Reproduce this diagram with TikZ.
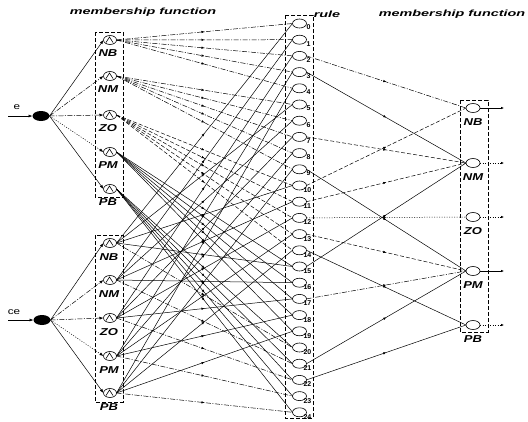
\documentclass[tikz,border=0pt]{standalone}
\usepackage{fontspec}
\setmainfont{Liberation Sans}
\newfontfamily\lblfont[FakeStretch=1.3]{Liberation Sans}
\newfontfamily\ttlfont[FakeStretch=1.6]{Liberation Sans}
\usetikzlibrary{shapes.geometric,arrows.meta,decorations.markings}
\begin{document}
\begin{tikzpicture}[x=1pt,y=-1pt,
  every node/.style={inner sep=0pt,outer sep=0pt},
  mf/.style={ellipse,draw,line width=0.6pt,minimum width=13pt,minimum height=9pt,
    path picture={\draw[line width=0.6pt] ([shift={(-4pt,-2.5pt)}]path picture bounding box.center) -- ++(3.5pt,5.5pt) -- ++(3.5pt,-5.5pt);}},
  rulenode/.style={ellipse,draw,line width=0.6pt,minimum width=14pt,minimum height=9pt},
  outnode/.style={ellipse,draw,line width=0.6pt,minimum width=14pt,minimum height=9pt},
  inode/.style={ellipse,fill=black,minimum width=17pt,minimum height=10pt},
  lbl/.style={font=\lblfont\bfseries\itshape\fontsize{10}{10}\selectfont},
  inlbl/.style={font=\lblfont\fontsize{9}{9}\selectfont},
  ttl/.style={font=\ttlfont\bfseries\itshape\fontsize{9}{9}\selectfont},
  num/.style={font=\bfseries\fontsize{7}{7}\selectfont,anchor=west},
  grpbox/.style={draw,line width=0.6pt,dash pattern=on 4pt off 2pt},
  mid/.style={postaction={decorate},decoration={markings,mark=at position 0.5 with {\arrow{Latex[length=3pt,width=2.5pt]}}}},
  conn/.style={line width=0.5pt},
  dd/.style={dash pattern=on 5pt off 1.5pt on 1pt off 1.5pt},
  ds/.style={dash pattern=on 4pt off 2pt},
  dt/.style={dash pattern=on 1pt off 1.5pt},
  sl/.style={solid},
  tip/.style={-{Latex[length=4pt,width=3pt]}},
]
\useasboundingbox (0,0) rectangle (528,421);

% titles
\node[ttl] (t1) at (143,12) {membership function};
\node[ttl] (t2) at (327,14) {rule};
\node[ttl] (t3) at (452,14) {membership function};

% group boxes
\draw[grpbox] (95,32) rectangle (123,197);
\draw[grpbox] (95,235) rectangle (123,402);
\draw[grpbox] (285,15) rectangle (313,418);
\draw[grpbox] (460,100) rectangle (488,332);

% inputs
\node[inode] (ein) at (41,116) {};
\node[inode] (cein) at (42,320) {};
\node[inlbl] (elbl) at (17,107) {e};
\node[inlbl] (celbl) at (14,312) {ce};
\coordinate (ein0) at (8,116);
\coordinate (cein0) at (8,320);
\draw[conn,tip] (ein0) -- (ein.west);
\draw[conn,tip] (cein0) -- (cein.west);

% membership nodes
\foreach \i/\y/\t in {0/40/NB,1/76/NM,2/115/ZO,3/152/PM,4/189/PB}{
  \node[mf] (u\i) at (110,\y) {};
  \node[lbl] (ul\i) at (108,\y+13.5) {\t};
}
\foreach \i/\y/\t in {0/243/NB,1/280/NM,2/318/ZO,3/356/PM,4/393/PB}{
  \node[mf] (l\i) at (110,\y) {};
  \node[lbl] (ll\i) at (109,\y+14) {\t};
}

% rule nodes
\foreach \k in {0,...,24}{
  \pgfmathsetmacro{\ry}{23.5+16.2*\k}
  \node[rulenode] (r\k) at (299.5,\ry) {};
  \ifnum\k<10
    \node[num] (n\k) at (306.5,\ry+4) {\k};
  \else
    \node[num] (n\k) at (303.5,\ry+4.5) {\k};
  \fi
}

% output nodes
\foreach \i/\y/\t in {0/108/NB,1/163/NM,2/217/ZO,3/271/PM,4/325/PB}{
  \node[outnode] (o\i) at (473,\y) {};
  \node[lbl] (ol\i) at (473,\y+14) {\t};
  \coordinate (oo\i) at (504,\y);
}

% input -> membership
\foreach \i/\st in {0/sl,1/dd,2/dd,3/dt,4/sl}{
  \draw[conn,tip,\st] (ein.east) -- (u\i.west);
  \draw[conn,tip,\st] (cein.east) -- (l\i.west);
}

% membership -> rule
\foreach \i/\st in {0/dd,1/dd,2/ds,3/sl,4/sl}{
  \foreach \j in {0,...,4}{
    \pgfmathtruncatemacro{\k}{5*\i+\j}
    \draw[conn,mid,\st] (u\i.east) -- (r\k.west);
  }
}
\foreach \j in {0,...,4}{
  \foreach \i in {0,...,3}{
    \pgfmathtruncatemacro{\k}{5*\i+\j}
    \draw[conn,mid] (l\j.east) -- (r\k.west);
  }
  \pgfmathtruncatemacro{\k}{20+\j}
  \draw[conn,mid,dd] (l\j.east) -- (r\k.west);
}

% rule -> output
\foreach \k/\o/\st in {2/0/dd,3/1/sl,7/1/ds,9/3/sl,10/0/ds,11/1/ds,12/2/dt,13/3/ds,14/4/sl,15/1/sl,17/3/dd,21/3/sl,22/4/sl}{
  \draw[conn,mid,\st] (r\k.east) -- (o\o.west);
}

% outputs
\foreach \i/\st in {0/sl,1/dt,2/dt,3/sl,4/dt}{
  \draw[conn,\st,-{Latex[length=3pt,width=2.5pt]}] (o\i.east) -- (oo\i);
}
\end{tikzpicture}
\end{document}
